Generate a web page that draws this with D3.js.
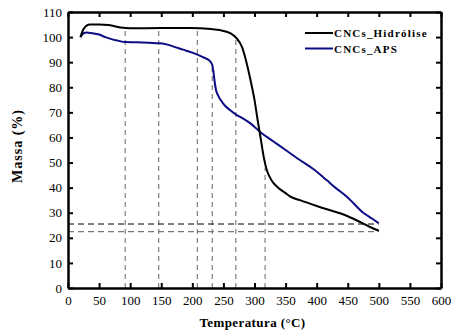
<!DOCTYPE html>
<meta charset="utf-8">
<script src="https://d3js.org/d3.v7.min.js"></script>
<style>
  body { margin: 0; background: #fff; }
  svg text { font-family: "Liberation Serif", "Times New Roman", Times, serif !important; }
</style>
<div id="chart"></div>
<script>

// CNCs_Hidrólise
var tempHid = [20, 25, 30, 35, 50, 65, 75, 85, 100, 150, 196, 230, 244, 261, 271, 280, 288, 296, 300, 305, 310, 315, 320, 325, 330, 338, 350, 357, 373, 411, 449, 470, 485, 500]
var massHid = [100, 103.2, 104.6, 105, 105, 104.8, 104.3, 103.8, 103.5, 103.6, 103.6, 103.2, 102.8, 101.6, 99.6, 96, 89, 80, 75, 67, 59.5, 52, 46.8, 44, 42, 40, 37.8, 36.5, 35, 31.8, 28.7, 26.3, 24.4, 22.8]

// CNCs_APS
var tempAps = [20, 25, 30, 40, 50, 60, 70, 80, 92, 110, 130, 148, 160, 172, 185, 200, 217, 228, 232, 234, 236, 238, 241, 249, 260, 271, 277, 293, 310, 330, 350, 373, 395, 416, 430, 449, 475, 490, 500]
var massAps = [100, 101.5, 101.8, 101.5, 101, 100, 99.2, 98.6, 98, 97.9, 97.7, 97.5, 97, 96, 95, 93.8, 92, 90.5, 89, 86, 82, 79, 77, 73.7, 71, 69, 68.2, 65.7, 62, 58.5, 55, 51, 47.3, 43, 40, 36.3, 30, 27.5, 25.8]

// dashed guide lines
var dropTemp = [92, 146, 208, 232, 270, 317]
var dropMass = [103.5, 103.6, 103.7, 89, 100, 48]
var levelMass = [25.5, 22.5]
var levelColor = ["#000", "#777"]
var levelEnd = 500

var xTicks = d3.range(0, 601, 50)
var yTicks = d3.range(0, 111, 10)

var width = 459, height = 336
var mLeft = 68, mRight = 441, mTop = 12, mBottom = 288

var svg = d3.select("#chart").append("svg")
    .attr("width", width)
    .attr("height", height)

var x = d3.scaleLinear().domain([0, 600]).range([mLeft, mRight])
var y = d3.scaleLinear().domain([0, 110]).range([mBottom, mTop])

// dashed guides
svg.selectAll(".drop")
  .data(dropTemp)
  .enter()
  .append("line")
    .attr("x1", function(d){ return x(d) })
    .attr("x2", function(d){ return x(d) })
    .attr("y1", y(0))
    .attr("y2", function(d, i){ return y(dropMass[i]) })
    .attr("stroke", "#666")
    .attr("stroke-width", 1)
    .attr("stroke-dasharray", "5,4")

svg.selectAll(".level")
  .data(levelMass)
  .enter()
  .append("line")
    .attr("x1", x(0))
    .attr("x2", x(levelEnd))
    .attr("y1", function(d){ return y(d) })
    .attr("y2", function(d){ return y(d) })
    .attr("stroke", function(d, i){ return levelColor[i] })
    .attr("stroke-width", 1.2)
    .attr("stroke-dasharray", "6,4")

// curves
var line = d3.line()
    .x(function(d){ return x(d[0]) })
    .y(function(d){ return y(d[1]) })
    .curve(d3.curveMonotoneX)

svg.append("path")
    .datum(d3.zip(tempAps, massAps))
    .attr("d", line)
    .attr("fill", "none")
    .attr("stroke", "#0b0b85")
    .attr("stroke-width", 2)

svg.append("path")
    .datum(d3.zip(tempHid, massHid))
    .attr("d", line)
    .attr("fill", "none")
    .attr("stroke", "#000")
    .attr("stroke-width", 2)

// axes, ticks pointing inward
svg.append("g")
    .attr("transform", "translate(0," + mBottom + ")")
    .call(d3.axisBottom(x).tickValues(xTicks).tickSize(-5).tickSizeOuter(0).tickPadding(8))
svg.append("g")
    .attr("transform", "translate(0," + mTop + ")")
    .call(d3.axisTop(x).tickValues(xTicks).tickSize(-5).tickSizeOuter(0).tickFormat(""))
svg.append("g")
    .attr("transform", "translate(" + mLeft + ",0)")
    .call(d3.axisLeft(y).tickValues(yTicks).tickSize(-5).tickSizeOuter(0).tickPadding(6))
svg.append("g")
    .attr("transform", "translate(" + mRight + ",0)")
    .call(d3.axisRight(y).tickValues(yTicks).tickSize(-5).tickSizeOuter(0).tickFormat(""))

svg.selectAll(".domain").attr("stroke", "#000").attr("stroke-width", 2.5)
svg.selectAll(".tick line").attr("stroke", "#000").attr("stroke-width", 2)
svg.selectAll(".tick text")
    .attr("fill", "#000")
    .attr("font-size", 13)

// axis titles
svg.append("text")
    .attr("x", (mLeft + mRight) / 2 - 2)
    .attr("y", 327)
    .attr("text-anchor", "middle")
    .style("font-size", "13px")
    .style("font-weight", "bold")
    .style("letter-spacing", "0.4px")
    .text("Temperatura (°C)")

svg.append("text")
    .attr("transform", "translate(22,146) rotate(-90)")
    .attr("text-anchor", "middle")
    .style("font-size", "14px")
    .style("font-weight", "bold")
    .style("letter-spacing", "1px")
    .text("Massa (%)")

// legend
var keys = ["CNCs_Hidrólise", "CNCs_APS"]
var colors = ["#000", "#0b0b85"]

svg.selectAll(".legline")
  .data(keys)
  .enter()
  .append("line")
    .attr("x1", 305)
    .attr("x2", 333)
    .attr("y1", function(d, i){ return 33 + i * 15.5 })
    .attr("y2", function(d, i){ return 33 + i * 15.5 })
    .attr("stroke", function(d, i){ return colors[i] })
    .attr("stroke-width", 2)

svg.selectAll(".leglabel")
  .data(keys)
  .enter()
  .append("text")
    .attr("x", 334)
    .attr("y", function(d, i){ return 37 + i * 15.5 })
    .style("font-size", "11px")
    .style("font-weight", "bold")
    .style("letter-spacing", "1.2px")
    .text(function(d){ return d })

</script>
